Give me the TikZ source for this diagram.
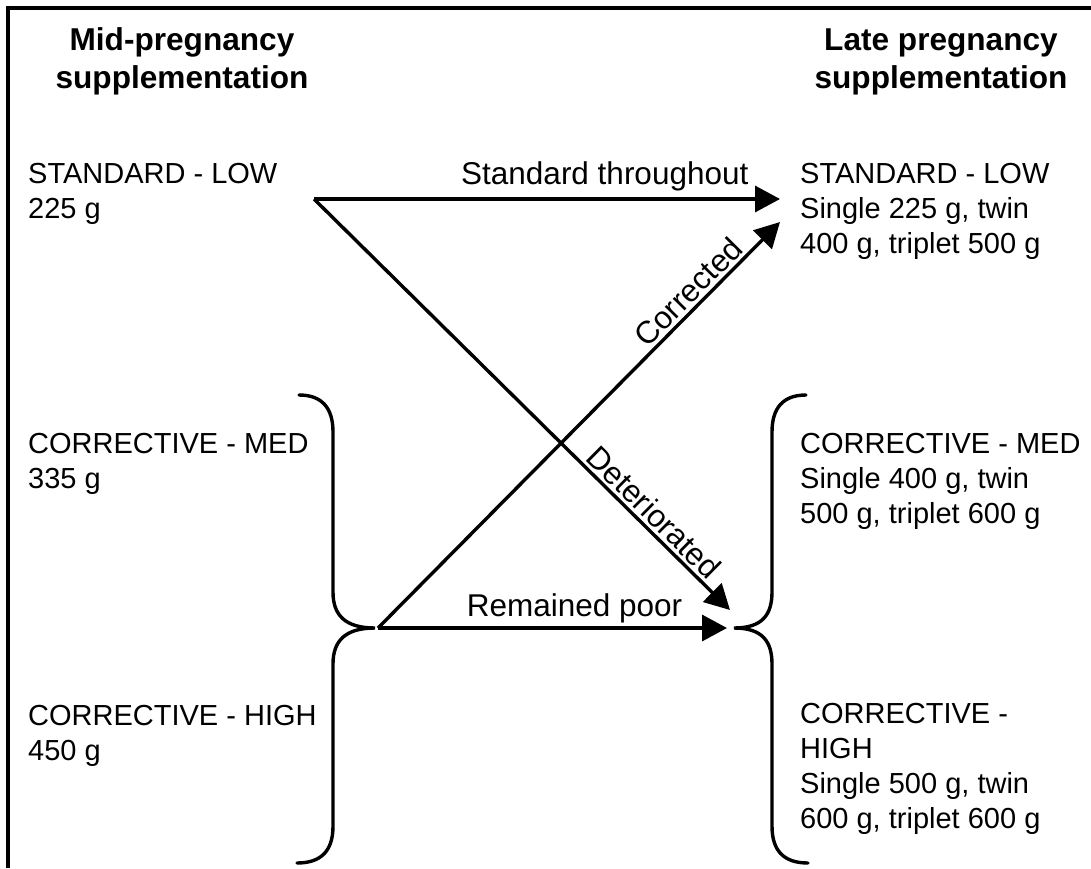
\documentclass[tikz,border=0pt]{standalone}
\usepackage{fontspec}
\setmainfont{Liberation Sans}
\usetikzlibrary{arrows.meta}
% left-aligned and centred line stacks whose baseline is that of the first line
\newcommand{\leftstack}[1]{\vtop{\halign{##\hfil\cr#1\crcr}}}
\newcommand{\centerstack}[1]{\vtop{\halign{\hfil##\hfil\cr#1\crcr}}}

\begin{document}
\begin{tikzpicture}[x=1pt,y=-1pt,
  group/.style={inner sep=0pt, anchor=base west, font=\fontsize{29}{35}\selectfont},
  heading/.style={inner sep=0pt, anchor=base, font=\fontsize{31.6}{38}\selectfont\bfseries},
  flow/.style={line width=3.4pt, -{Triangle[length=25pt,width=26pt]}},
  flowtext/.style={font=\fontsize{31.5}{38}\selectfont, inner sep=3pt},
  brace/.style={line width=3.4pt, line cap=round},
  frame/.style={line width=3.2pt}]

\useasboundingbox (0,0) rectangle (1091,868);
\draw[frame] (8,868) -- (8,8) -- (1091,8);

% column headings
\node[heading] (hmid)  at (182,50) {\centerstack{Mid-pregnancy\cr supplementation}};
\node[heading] (hlate) at (941,50) {\centerstack{Late pregnancy\cr supplementation}};

% mid-pregnancy groups
\node[group] (mLow)  at (28,183) {\leftstack{STANDARD - LOW\cr 225 g}};
\node[group] (mMed)  at (28,453) {\leftstack{CORRECTIVE - MED\cr 335 g}};
\node[group] (mHigh) at (28,725) {\leftstack{CORRECTIVE - HIGH\cr 450 g}};

% late-pregnancy groups
\node[group] (lLow)  at (800,183) {\leftstack{STANDARD - LOW\cr Single 225 g, twin\cr 400 g, triplet 500 g}};
\node[group] (lMed)  at (800,453) {\leftstack{CORRECTIVE - MED\cr Single 400 g, twin\cr 500 g, triplet 600 g}};
\node[group] (lHigh) at (800,723) {\leftstack{CORRECTIVE -\cr HIGH\cr Single 500 g, twin\cr 600 g, triplet 600 g}};

% connector end points
\coordinate (lowOut)  at (314,199);
\coordinate (corOut)  at (378,628);
\coordinate (lowIn)   at (780,199);
\coordinate (corIn)   at (780,222);
\coordinate (detIn)   at (730,610);
\coordinate (poorIn)  at (727,628);

% braces joining the two corrective groups on each side
\draw[brace] (299,395) .. controls (322,395) and (333,408) .. (333,432)
  -- (333,592) .. controls (333,615) and (345,628) .. (375,628)
  .. controls (345,628) and (333,641) .. (333,664)
  -- (333,826) .. controls (333,850) and (322,863) .. (297,863);
\draw[brace] (806,395) .. controls (783,395) and (772,408) .. (772,432)
  -- (772,592) .. controls (772,615) and (762,628) .. (734,628)
  .. controls (762,628) and (772,641) .. (772,664)
  -- (772,826) .. controls (772,850) and (783,863) .. (808,863);

% transitions
\draw[flow] (lowOut) -- node[flowtext, above, pos=0.624, inner sep=6pt] {Standard throughout} (lowIn);
\draw[flow] (lowOut) -- node[flowtext, sloped, above, pos=0.79] {Deteriorated} (detIn);
\draw[flow] (corOut) -- node[flowtext, sloped, above, pos=0.80] {Corrected} (corIn);
\draw[flow] (corOut) -- node[flowtext, above, pos=0.563] {Remained poor} (poorIn);
\end{tikzpicture}
\end{document}
